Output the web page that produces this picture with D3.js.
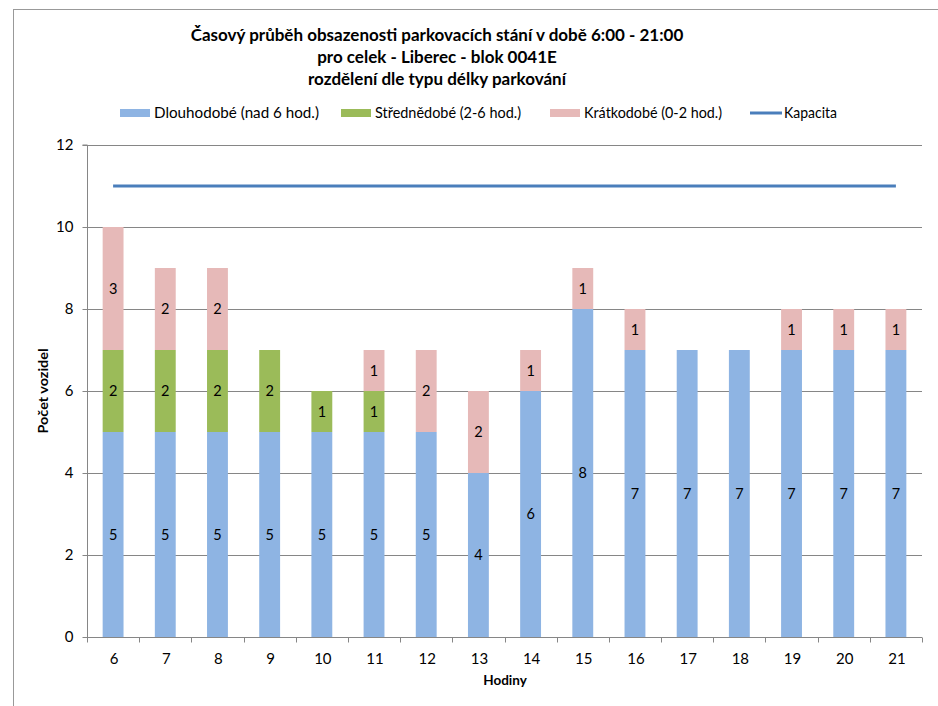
<!DOCTYPE html>
<html><head><meta charset="utf-8">
<script src="https://cdn.jsdelivr.net/npm/d3@7"></script>
<style>body{margin:0;background:#fff}svg{display:block;font-family:Lato,"Open Sans",sans-serif}</style>
</head><body><svg id="c" width="938" height="706"></svg>
<script>
const hours = ["6","7","8","9","10","11","12","13","14","15","16","17","18","19","20","21"];
const longTerm  = [5,5,5,5,5,5,5,4,6,8,7,7,7,7,7,7];
const midTerm   = [2,2,2,2,1,1,0,0,0,0,0,0,0,0,0,0];
const shortTerm = [3,2,2,0,0,1,2,2,1,1,1,0,0,1,1,1];
const capacity  = [11,11,11,11,11,11,11,11,11,11,11,11,11,11,11,11];
const yTicks = [0,2,4,6,8,10,12];
const seriesNames = ["Dlouhodobé (nad 6 hod.)","Střednědobé (2-6 hod.)","Krátkodobé (0-2 hod.)","Kapacita"];
const colors = ["#8eb4e3","#9bbb59","#e6b9b8","#4a7ebb"];
const titleLines = ["Časový průběh obsazenosti parkovacích stání v době 6:00 - 21:00","pro celek - Liberec - blok 0041E","rozdělení dle typu délky parkování"];

const svg = d3.select("#c");
const L=87,R=922,T=145,B=637;
const x = d3.scaleBand().domain(hours).range([L,R]).paddingInner(0.6).paddingOuter(0.3);
const y = d3.scaleLinear().domain([0,12]).range([B,T]);
const axisCol="#868686";

// frame
svg.append("rect").attr("x",13.5).attr("y",9.5).attr("width",940).attr("height",720).attr("fill","none").attr("stroke","#999").attr("stroke-width",1);

// gridlines
svg.append("g").selectAll("line").data(yTicks.filter(d=>d>0)).join("line")
 .attr("x1",L).attr("x2",R).attr("y1",d=>Math.round(y(d))+0.5).attr("y2",d=>Math.round(y(d))+0.5)
 .attr("stroke",axisCol).attr("stroke-width",1);

// stacked bars
const rows = hours.map((h,i)=>({h, a:longTerm[i], b:midTerm[i], c:shortTerm[i]}));
const stack = d3.stack().keys(["a","b","c"])(rows);
const g = svg.append("g");
stack.forEach((s,si)=>{
  g.append("g").selectAll("rect").data(s.filter(d=>d[1]-d[0]>0)).join("rect")
   .attr("x",d=>x(d.data.h)).attr("width",x.bandwidth())
   .attr("y",d=>y(d[1])).attr("height",d=>y(d[0])-y(d[1]))
   .attr("fill",colors[si]);
  g.append("g").selectAll("text").data(s.filter(d=>d[1]-d[0]>0)).join("text")
   .attr("x",d=>x(d.data.h)+x.bandwidth()/2).attr("y",d=>y((d[0]+d[1])/2))
   .attr("dy","0.35em").attr("text-anchor","middle").attr("font-size",14.5).attr("fill","#000")
   .text(d=>d[1]-d[0]);
});

// capacity line
const line = d3.line().x((d,i)=>x(hours[i])+x.bandwidth()/2).y(d=>y(d));
svg.append("path").datum(capacity).attr("d",line).attr("fill","none").attr("stroke",colors[3]).attr("stroke-width",3);

// y axis
const ya = svg.append("g").attr("transform",`translate(${L+0.5},0)`)
 .call(d3.axisLeft(y).tickValues(yTicks).tickSize(5).tickPadding(9));
ya.selectAll("line,path").attr("stroke",axisCol);
ya.selectAll("text").attr("font-size",15).attr("font-family","Lato").attr("fill","#000");
ya.select(".domain").attr("d",`M-5,${T}H0V${B}`);

// x axis
const xa = svg.append("g").attr("transform",`translate(0,${B+0.5})`);
xa.append("line").attr("x1",L).attr("x2",R).attr("stroke",axisCol);
const bounds = hours.map((h,i)=>L+i*(R-L)/hours.length).concat([R]);
xa.selectAll("line.t").data(bounds).join("line").attr("class","t")
 .attr("x1",d=>Math.round(d)+0.5).attr("x2",d=>Math.round(d)+0.5).attr("y1",0).attr("y2",5).attr("stroke",axisCol);
xa.selectAll("text").data(hours).join("text")
 .attr("x",d=>x(d)+x.bandwidth()/2+1).attr("y",26).attr("text-anchor","middle").attr("font-size",15).text(d=>d);

// axis titles
svg.append("text").attr("x",505).attr("y",685).attr("text-anchor","middle").attr("font-weight","bold").attr("font-size",13.5).text("Hodiny");
svg.append("text").attr("transform",`translate(48,391) rotate(-90)`).attr("text-anchor","middle").attr("font-weight","bold").attr("font-size",13.5)
 .attr("textLength",85).attr("lengthAdjust","spacingAndGlyphs").text("Počet vozidel");

// title
svg.append("g").selectAll("text").data(titleLines).join("text")
 .attr("x",437).attr("y",(d,i)=>[41,63,85][i]).attr("text-anchor","middle").attr("font-weight","bold").attr("font-size",17).text(d=>d);

// legend
const legX=[120,341,550,750];
const legW=[165,146,138,53];
const lg = svg.append("g");
seriesNames.forEach((n,i)=>{
  if(i<3) lg.append("rect").attr("x",legX[i]).attr("y",109).attr("width",30).attr("height",8).attr("fill",colors[i]);
  else lg.append("line").attr("x1",legX[i]).attr("x2",legX[i]+32).attr("y1",113).attr("y2",113).attr("stroke",colors[i]).attr("stroke-width",3);
  lg.append("text").attr("x",legX[i]+(i<3?34:34)).attr("y",113).attr("dy","0.35em").attr("font-size",15)
   .attr("textLength",legW[i]).attr("lengthAdjust","spacingAndGlyphs").text(n);
});
</script></body></html>
